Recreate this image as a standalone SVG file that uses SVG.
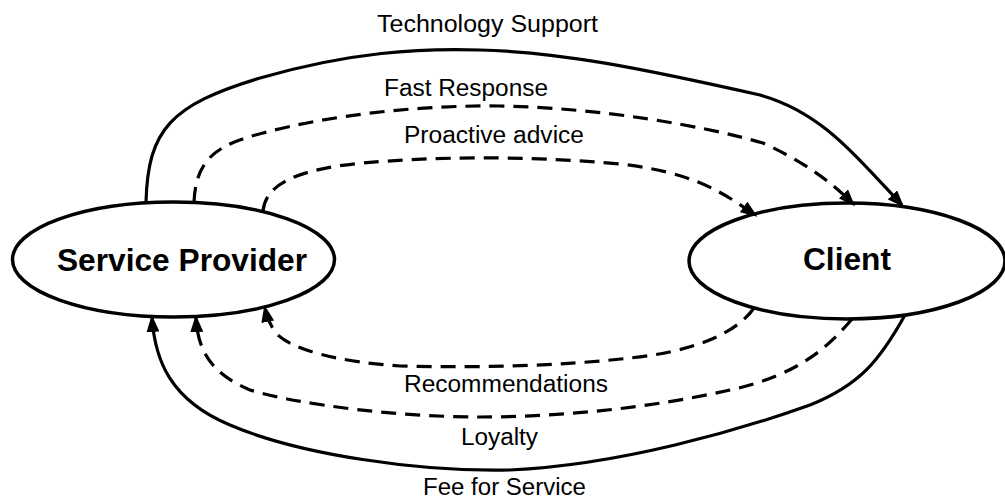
<svg xmlns="http://www.w3.org/2000/svg" width="1005" height="500" viewBox="0 0 1005 500">
  <style>
    .node { fill: #ffffff; stroke: #000000; stroke-width: 3.5; }
    .title { font-family: "Liberation Sans", Arial, sans-serif; font-weight: bold; font-size: 31px; fill: #000000; text-anchor: middle; }
    .label { font-family: "Liberation Sans", Arial, sans-serif; font-size: 23px; fill: #000000; text-anchor: middle; }
    .flow { fill: none; stroke: #000000; stroke-width: 3.2; marker-end: url(#arrow); }
    .dashed { stroke-dasharray: 15 9; }
  </style>
  <defs>
    <marker id="arrow" markerUnits="userSpaceOnUse" markerWidth="17" markerHeight="13" refX="14" refY="6.5" orient="auto">
      <path d="M0,0 L17,6.5 L0,13 z" fill="#000000" stroke="none"/>
    </marker>
  </defs>

  <g id="service-provider">
    <ellipse class="node" cx="173.5" cy="259.5" rx="161" ry="57.5"/>
    <text class="title" x="182" y="271" textLength="250" lengthAdjust="spacingAndGlyphs">Service Provider</text>
  </g>

  <g id="client">
    <ellipse class="node" cx="847" cy="261" rx="158" ry="58"/>
    <text class="title" x="847" y="270" textLength="88" lengthAdjust="spacingAndGlyphs">Client</text>
  </g>

  <g id="connectors">
    <!-- provider to client -->
    <path id="technology-support" class="flow" d="M146,202 C148,130 170,105 260,78 C350,52 420,48 480,50 C560,52 640,68 760,95 C820,112 850,150 902,205"/>
    <path id="fast-response" class="flow dashed" d="M194,202 C196,160 215,145 263,133 C330,115 420,105 500,106 C600,108 700,125 763,143 C800,160 830,180 853,204"/>
    <path id="proactive-advice" class="flow dashed" d="M263,211 C265,190 285,170 363,163 C430,157 520,155 620,164 C690,172 720,190 755,215"/>
    <!-- client to provider -->
    <path id="fee-for-service" class="flow" d="M905,315 C880,360 860,385 810,405 C740,430 620,465 510,470 C420,472 300,455 230,425 C170,400 155,360 152,318"/>
    <path id="loyalty" class="flow dashed" d="M852,319 C830,345 800,375 730,390 C650,408 560,417 480,417 C400,417 300,405 250,390 C215,375 198,355 196,318"/>
    <path id="recommendations" class="flow dashed" d="M754,308 C735,335 690,352 630,358 C560,366 480,368 400,366 C340,362 290,350 275,332 C270,324 267,318 265,308"/>
  </g>

  <g id="labels">
    <text class="label" x="487.5" y="32" textLength="221" lengthAdjust="spacingAndGlyphs">Technology Support</text>
    <text class="label" x="466" y="96" textLength="164" lengthAdjust="spacingAndGlyphs">Fast Response</text>
    <text class="label" x="494" y="143" textLength="180" lengthAdjust="spacingAndGlyphs">Proactive advice</text>
    <text class="label" x="506" y="392" textLength="204" lengthAdjust="spacingAndGlyphs">Recommendations</text>
    <text class="label" x="499.5" y="445" textLength="77" lengthAdjust="spacingAndGlyphs">Loyalty</text>
    <text class="label" x="504.5" y="495" textLength="163" lengthAdjust="spacingAndGlyphs">Fee for Service</text>
  </g>
</svg>
